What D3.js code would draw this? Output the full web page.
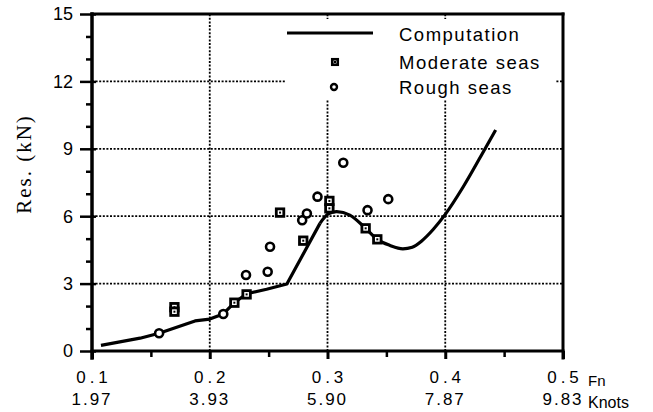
<!DOCTYPE html>
<html>
<head>
<meta charset="utf-8">
<script src="https://cdn.jsdelivr.net/npm/d3@7"></script>
<style>
body { margin: 0; background: #fff; }
svg { display: block; font-family: "Liberation Sans", Arial, sans-serif; }
</style>
</head>
<body>
<div id="chart"></div>
<script>
// Fn ticks and the matching speed in knots
var fnTicks = [0.1, 0.2, 0.3, 0.4, 0.5];
var knotLabels = ["1.97", "3.93", "5.90", "7.87", "9.83"];
var fnMinor = [0.15, 0.25, 0.35, 0.45];
var resTicks = [0, 3, 6, 9, 12, 15];
var resMinor = [1, 2, 4, 5, 7, 8, 10, 11, 13, 14];

// Computation curve: straight pieces up to the hump, smooth after it
var compLowFn  = [0.1076, 0.1408, 0.157, 0.1875, 0.2, 0.2115, 0.2209, 0.2313, 0.2483, 0.2655, 0.2936];
var compLowRes = [0.25, 0.57, 0.79, 1.34, 1.42, 1.65, 2.15, 2.55, 2.75, 2.98, 5.68];
var compHighFn  = [0.2936, 0.3007, 0.3078, 0.319, 0.3324, 0.3423, 0.3531, 0.364, 0.372, 0.38, 0.3899, 0.4, 0.4153, 0.4343, 0.4428];
var compHighRes = [5.68, 6.1, 6.2, 6.05, 5.46, 4.97, 4.7, 4.55, 4.62, 4.9, 5.42, 6.08, 7.31, 9.05, 9.84];

// Moderate seas (squares)
var moderateFn  = [0.17, 0.17, 0.2209, 0.2313, 0.2597, 0.2794, 0.3016, 0.3016, 0.3324, 0.3423];
var moderateRes = [1.95, 1.75, 2.15, 2.52, 6.16, 4.91, 6.68, 6.35, 5.46, 4.97];

// Rough seas (circles)
var roughFn  = [0.157, 0.2115, 0.2308, 0.2492, 0.2512, 0.2785, 0.2825, 0.2915, 0.3134, 0.334, 0.3516];
var roughRes = [0.79, 1.65, 3.38, 3.53, 4.64, 5.82, 6.12, 6.87, 8.38, 6.27, 6.76];

var legendItems = ["Computation", "Moderate seas", "Rough seas"];

var width = 653, height = 412;

var x = d3.scaleLinear().domain([0.1, 0.5]).range([92, 563]);
var y = d3.scaleLinear().domain([0, 15]).range([351, 14]);

var svg = d3.select("#chart").append("svg")
    .attr("width", width)
    .attr("height", height);

// dotted grid
var grid = svg.append("g")
    .attr("stroke", "#000")
    .attr("stroke-width", 1.8)
    .attr("stroke-dasharray", "2,1.6");

grid.selectAll("line.v")
    .data([0.2, 0.3, 0.4])
    .enter().append("line")
    .attr("x1", function(d) { return x(d); })
    .attr("x2", function(d) { return x(d); })
    .attr("y1", y(0))
    .attr("y2", y(15));

grid.selectAll("line.h")
    .data([3, 6, 9, 12])
    .enter().append("line")
    .attr("x1", x(0.1))
    .attr("x2", x(0.5))
    .attr("y1", function(d) { return y(d); })
    .attr("y2", function(d) { return y(d); });

// legend background hides the grid behind it
svg.append("rect")
    .attr("x", 286).attr("y", 19)
    .attr("width", 269).attr("height", 80)
    .attr("fill", "#fff");

// x axis ticks
var xAxis = svg.append("g")
    .attr("transform", "translate(0," + y(0) + ")")
    .call(d3.axisBottom(x).tickValues(fnTicks).tickSize(8).tickFormat(""));
xAxis.select(".domain").remove();
xAxis.selectAll("line").attr("stroke", "#000").attr("stroke-width", 3);

var xMinor = svg.append("g")
    .attr("transform", "translate(0," + y(0) + ")")
    .call(d3.axisBottom(x).tickValues(fnMinor).tickSize(6).tickFormat(""));
xMinor.select(".domain").remove();
xMinor.selectAll("line").attr("stroke", "#000").attr("stroke-width", 2.5);

// y axis ticks
var yAxis = svg.append("g")
    .attr("transform", "translate(" + x(0.1) + ",0)")
    .call(d3.axisLeft(y).tickValues(resTicks).tickSize(12).tickFormat(""));
yAxis.select(".domain").remove();
yAxis.selectAll("line").attr("stroke", "#000").attr("stroke-width", 2.5).attr("x1", 4);

var yMinor = svg.append("g")
    .attr("transform", "translate(" + x(0.1) + ",0)")
    .call(d3.axisLeft(y).tickValues(resMinor).tickSize(6).tickFormat(""));
yMinor.select(".domain").remove();
yMinor.selectAll("line").attr("stroke", "#000").attr("stroke-width", 2.5);

// frame
var frame = svg.append("g").attr("stroke", "#000").attr("stroke-linecap", "square");
frame.append("line").attr("x1", x(0.1)).attr("x2", x(0.1)).attr("y1", y(15)).attr("y2", y(0) + 7).attr("stroke-width", 3.5);
frame.append("line").attr("x1", x(0.1)).attr("x2", x(0.5)).attr("y1", y(0)).attr("y2", y(0)).attr("stroke-width", 3);
frame.append("line").attr("x1", x(0.5)).attr("x2", x(0.5)).attr("y1", y(15)).attr("y2", y(0) + 7).attr("stroke-width", 3);
frame.append("line").attr("x1", x(0.1)).attr("x2", x(0.5)).attr("y1", y(15)).attr("y2", y(15)).attr("stroke-width", 3);

// y tick labels
svg.append("g").selectAll("text")
    .data(resTicks)
    .enter().append("text")
    .attr("x", 73)
    .attr("y", function(d) { return y(d); })
    .attr("dy", "0.36em")
    .attr("text-anchor", "end")
    .style("font-size", "18px")
    .text(function(d) { return d; });

// x tick labels, Fn on top and knots below
var xl = svg.append("g")
    .style("font-size", "17px")
    .attr("text-anchor", "middle");
xl.selectAll("text.fn")
    .data(fnTicks)
    .enter().append("text")
    .style("letter-spacing", "4px")
    .attr("x", function(d) { return x(d) + 2; })
    .attr("y", 383)
    .text(function(d) { return d.toFixed(1); });
xl.selectAll("text.kn")
    .data(knotLabels)
    .enter().append("text")
    .style("letter-spacing", "2px")
    .attr("x", function(d, i) { return x(fnTicks[i]); })
    .attr("y", 405)
    .text(function(d) { return d; });

svg.append("text").attr("x", 588).attr("y", 386).style("font-size", "15px").text("Fn");
svg.append("text").attr("x", 588).attr("y", 408).style("font-size", "16px").text("Knots");

// y title
svg.append("text")
    .attr("transform", "translate(31,164) rotate(-90)")
    .attr("text-anchor", "middle")
    .style("font-family", "'Liberation Serif', 'Times New Roman', serif")
    .style("font-size", "21px")
    .style("letter-spacing", "2px")
    .text("Res. (kN)");

// computation curve
var lowLine = d3.line()
    .x(function(d) { return x(d[0]); })
    .y(function(d) { return y(d[1]); });
var highLine = d3.line()
    .x(function(d) { return x(d[0]); })
    .y(function(d) { return y(d[1]); })
    .curve(d3.curveMonotoneX);

var curve = svg.append("g")
    .attr("fill", "none")
    .attr("stroke", "#000")
    .attr("stroke-width", 3.2)
    .attr("stroke-linejoin", "round");
curve.append("path").datum(d3.zip(compLowFn, compLowRes)).attr("d", lowLine);
curve.append("path").datum(d3.zip(compHighFn, compHighRes)).attr("d", highLine);

// marker helpers
function squareMarker(g, cx, cy, s, sw) {
    g.append("rect")
        .attr("x", cx - s / 2).attr("y", cy - s / 2)
        .attr("width", s).attr("height", s)
        .attr("fill", "#fff").attr("stroke", "#000").attr("stroke-width", sw);
    g.append("rect")
        .attr("x", cx - 1).attr("y", cy - 1)
        .attr("width", 2).attr("height", 2)
        .attr("fill", "#000");
}
function circleMarker(g, cx, cy, r, sw) {
    g.append("circle")
        .attr("cx", cx).attr("cy", cy).attr("r", r)
        .attr("fill", "#fff").attr("stroke", "#000").attr("stroke-width", sw);
}

var pts = svg.append("g");
d3.zip(roughFn, roughRes).forEach(function(d) {
    circleMarker(pts, x(d[0]), y(d[1]), 4, 2.6);
});
d3.zip(moderateFn, moderateRes).forEach(function(d) {
    squareMarker(pts, x(d[0]), y(d[1]), 7.5, 2.8);
});

// legend
var lg = svg.append("g");
lg.append("line")
    .attr("x1", 287).attr("x2", 373)
    .attr("y1", 33).attr("y2", 33)
    .attr("stroke", "#000").attr("stroke-width", 3.2);
squareMarker(lg, 335, 62, 5.5, 2.6);
circleMarker(lg, 334, 87, 3, 2.4);

lg.selectAll("text")
    .data(legendItems)
    .enter().append("text")
    .attr("x", 399)
    .attr("y", function(d, i) { return [34, 62, 87][i]; })
    .attr("dy", "0.36em")
    .style("font-size", "18.5px")
    .style("letter-spacing", "1.5px")
    .text(function(d) { return d; });
</script>
</body>
</html>
